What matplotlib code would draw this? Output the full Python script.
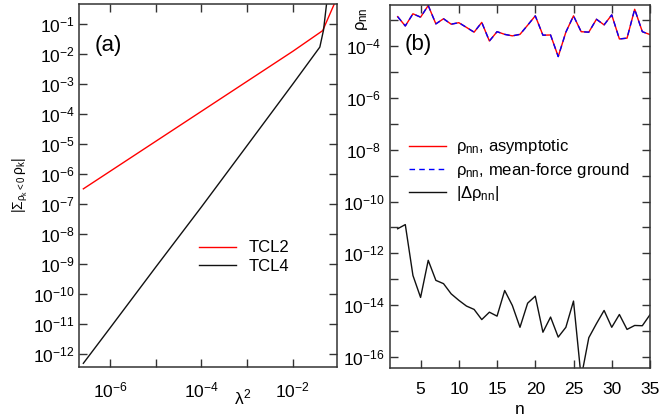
import matplotlib
matplotlib.use('Agg')
import matplotlib.pyplot as plt
from matplotlib.ticker import LogLocator, FixedLocator, NullFormatter, LogFormatterSciNotation

plt.rcParams['font.family'] = ['Liberation Sans', 'DejaVu Sans']
plt.rcParams['mathtext.fontset'] = 'custom'
plt.rcParams['mathtext.rm'] = 'Liberation Sans'
plt.rcParams['mathtext.it'] = 'Liberation Sans'
plt.rcParams['mathtext.bf'] = 'Liberation Sans:bold'
plt.rcParams['axes.unicode_minus'] = False

# panel (a): negative-population weight vs coupling
lam2_tcl2 = [2.6e-7, 1e-6, 1e-5, 1e-4, 1e-3, 1e-2, 4.5e-2, 8.1e-2]
neg_tcl2 = [3.2e-7, 1.23e-6, 1.23e-5, 1.23e-4, 1.23e-3, 1.23e-2, 6.0e-2, 4.7e-1]
lam2_tcl4 = [2.6e-7, 1e-6, 1e-5, 1e-4, 1e-3, 1e-2, 3.9e-2, 4.7e-2, 5.5e-2]
neg_tcl4 = [4.9e-13, 7.4e-12, 7.9e-10, 8.0e-8, 8.9e-6, 1.0e-3, 1.7e-2, 6.3e-2, 5.0e-1]

# panel (b): diagonal elements vs level index
n_vals = list(range(2, 36))
rho_asym = [1.35e-3, 5.9e-4, 1.74e-3, 1.29e-3, 3.63e-3, 7.1e-4, 1.12e-3, 6.9e-4,
            7.9e-4, 5.2e-4, 3.4e-4, 8.1e-4, 1.55e-4, 3.55e-4, 2.8e-4, 2.45e-4,
            2.8e-4, 6.3e-4, 1.45e-3, 2.6e-4, 2.65e-4, 3.9e-5, 3.4e-4, 1.45e-3,
            3.55e-4, 3.4e-4, 1.07e-3, 6.5e-4, 1.58e-3, 1.86e-4, 2.0e-4, 2.6e-3,
            3.55e-4, 2.75e-4]
rho_mf = rho_asym
delta_rho = [8.9e-12, 1.29e-11, 1.41e-13, 2.0e-14, 5.4e-13, 9.1e-14, 6.8e-14,
             2.75e-14, 1.55e-14, 9.3e-15, 6.9e-15, 2.8e-15, 5.4e-15, 3.8e-15,
             3.7e-14, 9.8e-15, 1.41e-15, 1.2e-14, 2.24e-14, 9.1e-16, 3.5e-15,
             5.9e-16, 1.41e-15, 1.45e-14, 1.6e-17, 5.6e-16, 1.95e-15, 6.3e-15,
             1.41e-15, 4.4e-15, 1.17e-15, 1.66e-15, 1.62e-15, 4.3e-15]

fig = plt.figure(figsize=(6.59, 4.16), dpi=100)
ax1 = fig.add_axes([0.1199, 0.1178, 0.3915, 0.8726])
ax2 = fig.add_axes([0.5918, 0.1154, 0.3945, 0.8726])

spine_col = '#333333'
for ax in (ax1, ax2):
    for s in ax.spines.values():
        s.set_color(spine_col)
        s.set_linewidth(1.1)
    ax.tick_params(which='both', direction='in', top=True, right=True,
                   length=6, width=1.0, color=spine_col, labelsize=12.5)
    ax.tick_params(axis='x', which='both', pad=10)
    ax.tick_params(axis='y', which='both', pad=3)
    ax.set_yscale('log')

# (a)
ax1.set_xscale('log')
ax1.plot(lam2_tcl2, neg_tcl2, color='#ff0000', lw=1.0, label='TCL2')
ax1.plot(lam2_tcl4, neg_tcl4, color='#111111', lw=1.0, label='TCL4')
ax1.set_xlim(2.09e-7, 0.0927)
ax1.set_ylim(3.69e-13, 0.464)
ax1.xaxis.set_major_locator(FixedLocator([1e-6, 1e-4, 1e-2]))
ax1.xaxis.set_minor_locator(FixedLocator([1e-5, 1e-3]))
ax1.xaxis.set_minor_formatter(NullFormatter())
ax1.yaxis.set_major_locator(LogLocator(base=10, numticks=30))
ax1.yaxis.set_minor_locator(FixedLocator([]))
ax1.text(0.062, 0.887, '(a)', transform=ax1.transAxes, fontsize=16,
         va='center', ha='left')
ax1.text(0.637, -0.085, r'$\lambda^2$', transform=ax1.transAxes, fontsize=12.5,
         ha='center', va='center')
ax1.set_ylabel(r'$|\Sigma_{\rho_k<0}\,\rho_k|$', fontsize=10, labelpad=2)
ax1.legend(loc='center left', bbox_to_anchor=(0.465, 0.303), frameon=False,
           fontsize=12, handlelength=2.2, handletextpad=0.8,
           labelspacing=0.2, borderpad=0, borderaxespad=0)

# (b)
ax2.plot(n_vals, rho_asym, color='#ff0000', lw=1.0,
         label=r'$\rho_{nn}$, asymptotic')
ax2.plot(n_vals, rho_mf, color='#0000ff', lw=1.0, ls=(0, (4, 3)),
         label=r'$\rho_{nn}$, mean-force ground')
ax2.plot(n_vals, delta_rho, color='#111111', lw=1.0,
         label=r'$|\Delta\rho_{nn}|$')
ax2.set_xlim(1, 35)
ax2.set_ylim(3.8e-17, 3.8e-3)
ax2.xaxis.set_major_locator(FixedLocator([5, 10, 15, 20, 25, 30, 35]))
ax2.yaxis.set_major_locator(FixedLocator([1e-16, 1e-14, 1e-12, 1e-10, 1e-8, 1e-6, 1e-4]))
ax2.yaxis.set_major_formatter(LogFormatterSciNotation())
ax2.yaxis.set_minor_locator(FixedLocator([1e-15, 1e-13, 1e-11, 1e-9, 1e-7, 1e-5, 1e-3]))
ax2.yaxis.set_minor_formatter(NullFormatter())
ax2.tick_params(axis='y', which='major', pad=19)
plt.setp(ax2.get_yticklabels(), ha='center')
ax2.set_xlabel('n', fontsize=12.5, labelpad=4)
ax2.text(0.058, 0.89, '(b)', transform=ax2.transAxes, fontsize=16,
         va='center', ha='left')
ax2.text(-0.108, 0.961, r'$\rho_{nn}$', transform=ax2.transAxes, fontsize=12,
         rotation=90, ha='center', va='center')
ax2.legend(loc='center left', bbox_to_anchor=(0.075, 0.545), frameon=False,
           fontsize=12, handlelength=2.2, handletextpad=0.6,
           labelspacing=0.25, borderpad=0, borderaxespad=0)

fig.savefig('out.png', dpi=100)
